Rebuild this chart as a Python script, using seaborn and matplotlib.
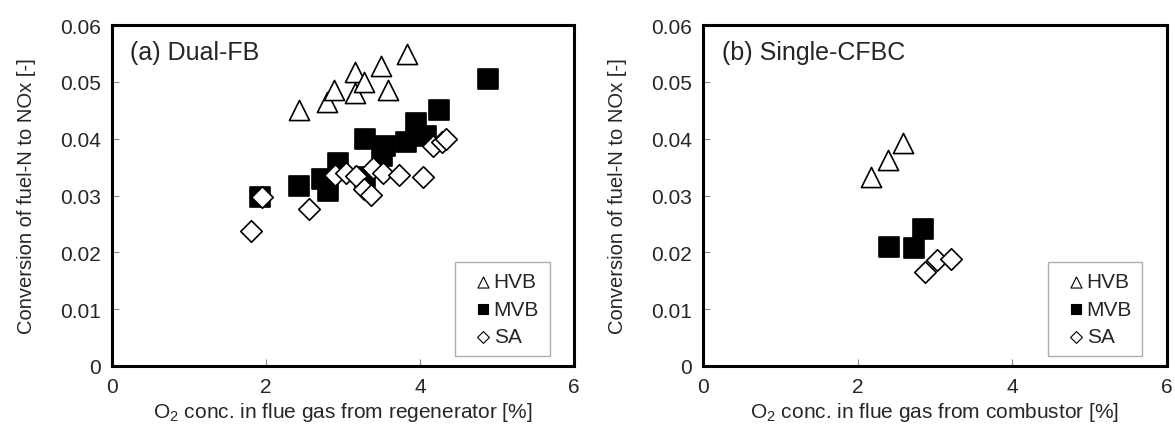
import numpy as np
import pandas as pd
import matplotlib
matplotlib.use("Agg")
import matplotlib.pyplot as plt
import seaborn as sns

# Panel (a) Dual-FB
a_hvb_x = [2.43, 2.79, 2.88, 3.15, 3.15, 3.27, 3.49, 3.58, 3.83]
a_hvb_y = [0.0451, 0.0464, 0.0485, 0.0481, 0.0518, 0.0500, 0.0528, 0.0486, 0.0549]
a_mvb_x = [1.92, 2.43, 2.73, 2.81, 2.94, 3.28, 3.28, 3.50, 3.54, 3.82, 3.95, 4.08, 4.25, 4.88]
a_mvb_y = [0.0297, 0.0317, 0.0329, 0.0308, 0.0358, 0.0333, 0.0399, 0.0369, 0.0387, 0.0394, 0.0428, 0.0404, 0.0451, 0.0505]
a_sa_x = [1.80, 1.95, 2.56, 2.89, 3.04, 3.17, 3.27, 3.36, 3.39, 3.52, 3.73, 4.04, 4.17, 4.28, 4.34]
a_sa_y = [0.0238, 0.0297, 0.0277, 0.0336, 0.0340, 0.0335, 0.0311, 0.0301, 0.0348, 0.0340, 0.0336, 0.0333, 0.0387, 0.0394, 0.0399]

# Panel (b) Single-CFBC
b_hvb_x = [2.17, 2.39, 2.58]
b_hvb_y = [0.0332, 0.0362, 0.0393]
b_mvb_x = [2.41, 2.73, 2.85]
b_mvb_y = [0.0209, 0.0208, 0.0241]
b_sa_x = [2.87, 3.02, 3.21]
b_sa_y = [0.0166, 0.0186, 0.0188]

series = ["HVB", "MVB", "SA"]
panel_titles = ["(a) Dual-FB", "(b) Single-CFBC"]
xlabels = ["O$_2$ conc. in flue gas from regenerator [%]",
           "O$_2$ conc. in flue gas from combustor [%]"]
ylabel = "Conversion of fuel-N to NOx [-]"
xticks = [0, 2, 4, 6]
yticks = [0, 0.01, 0.02, 0.03, 0.04, 0.05, 0.06]
ytick_labels = ["0", "0.01", "0.02", "0.03", "0.04", "0.05", "0.06"]

def make_df(hx, hy, mx, my, sx, sy):
    return pd.DataFrame({
        "x": hx + mx + sx,
        "y": hy + my + sy,
        "fuel": ["HVB"] * len(hx) + ["MVB"] * len(mx) + ["SA"] * len(sx),
    })

dfs = [make_df(a_hvb_x, a_hvb_y, a_mvb_x, a_mvb_y, a_sa_x, a_sa_y),
       make_df(b_hvb_x, b_hvb_y, b_mvb_x, b_mvb_y, b_sa_x, b_sa_y)]

sns.set_theme(style="white")
plt.rcParams["font.family"] = ["Liberation Sans", "DejaVu Sans"]
plt.rcParams["mathtext.fontset"] = "custom"
plt.rcParams["mathtext.rm"] = "Liberation Sans"

fig = plt.figure(figsize=(11.75, 4.27), dpi=100)
axes = [fig.add_axes([112/1175, 1 - 367/427, 462/1175, 341/427]),
        fig.add_axes([703/1175, 1 - 367/427, 464/1175, 341/427])]

styles = {
    "HVB": dict(marker="^", s=210, facecolor="white", edgecolor="black"),
    "MVB": dict(marker="s", s=190, facecolor="black", edgecolor="black"),
    "SA": dict(marker="D", s=120, facecolor="white", edgecolor="black"),
}

for ax, df, title, xl in zip(axes, dfs, panel_titles, xlabels):
    for name in series:
        st = styles[name]
        sub = df[df["fuel"] == name]
        sns.scatterplot(data=sub, x="x", y="y", ax=ax, marker=st["marker"], s=st["s"],
                        color=st["facecolor"], edgecolor=st["edgecolor"], linewidth=1.2,
                        label=name, zorder=3)
    ax.set_xlim(0, 6)
    ax.set_ylim(0, 0.06)
    ax.set_xticks(xticks)
    ax.set_yticks(yticks)
    ax.set_yticklabels(ytick_labels)
    ax.tick_params(direction="in", length=5, width=0.8, color="#888888",
                   labelsize=15, pad=8, left=True, bottom=True)
    for sp in ax.spines.values():
        sp.set_color("black")
        sp.set_linewidth(2.2)
        sp.set_visible(True)
    ax.set_xlabel(xl, fontsize=15, labelpad=3)
    ax.set_ylabel(ylabel, fontsize=14.5, labelpad=17)
    ax.text(0.04, 0.955, title, transform=ax.transAxes, fontsize=18,
            ha="left", va="top")
    leg = ax.legend(loc="lower right", fontsize=15, frameon=True, fancybox=False,
                    edgecolor="#999999", markerscale=0.55, handletextpad=-0.35,
                    handlelength=1.7, borderpad=0.5, labelspacing=0.4,
                    borderaxespad=0, bbox_to_anchor=(0.947, 0.028))
    leg.get_frame().set_linewidth(1.0)
    for h in leg.legend_handles:
        h.set_linewidth(0.8)

fig.savefig("out.png", dpi=100, facecolor="white")
